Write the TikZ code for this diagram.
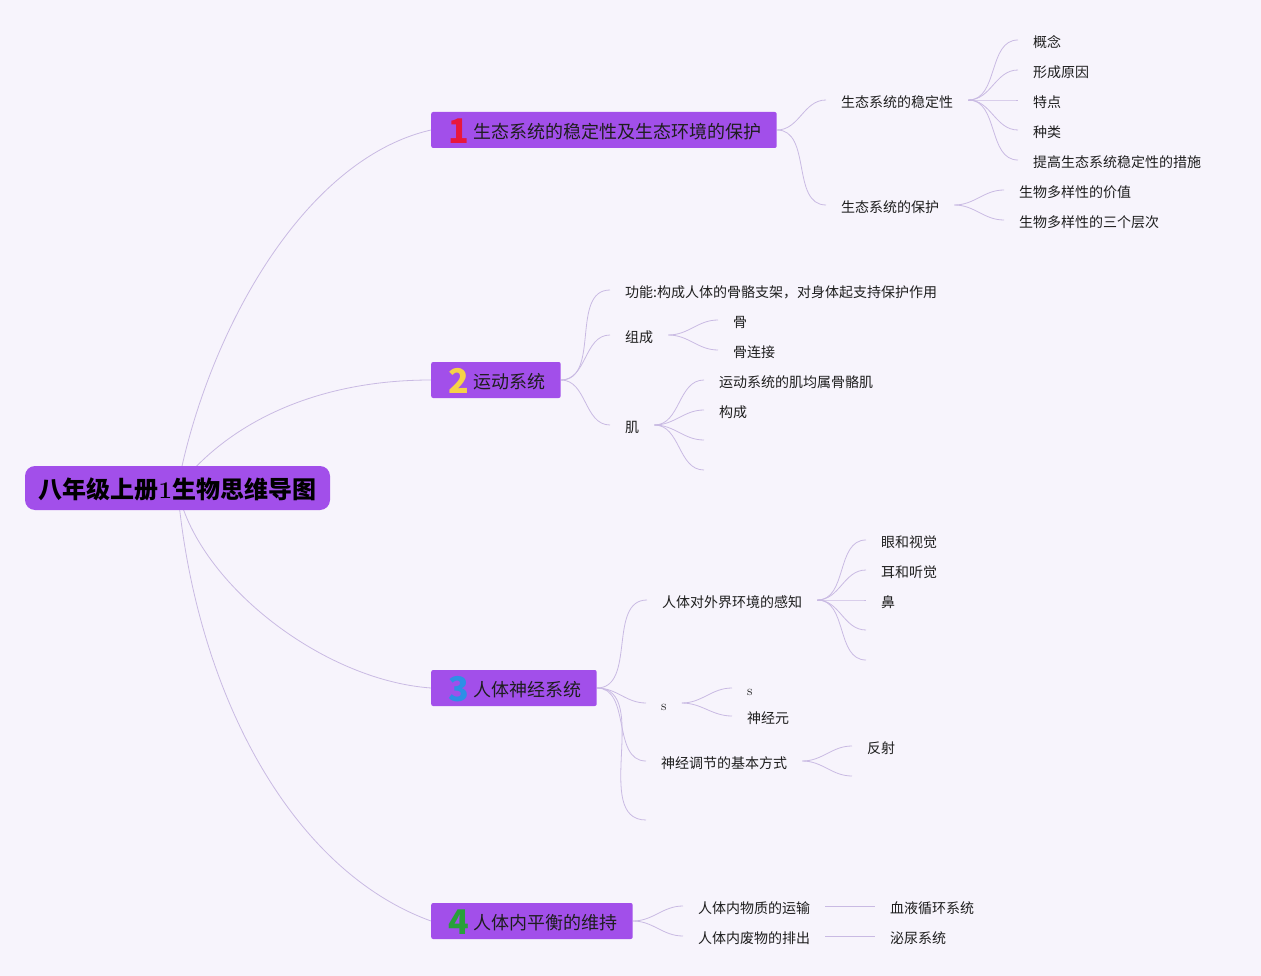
\documentclass[tikz,border=0pt]{standalone}
\usepackage{fontspec}
\newfontfamily\cjk{Noto Sans CJK SC}
\usetikzlibrary{backgrounds}
\definecolor{bg}{HTML}{F7F4FC}
\definecolor{mp}{HTML}{A24FEA}
\definecolor{ln}{HTML}{C9BAE3}
\definecolor{tx}{HTML}{1E1E1E}
\definecolor{b1}{HTML}{E8173B}
\definecolor{b2}{HTML}{F6D247}
\definecolor{b3}{HTML}{2D8FE6}
\definecolor{b4}{HTML}{28A03A}
\newcommand\mybadge[2]{\hspace*{17.5pt}\makebox[19.5pt][l]{\raisebox{-5pt}[0pt][0pt]{\fontsize{34}{34}\selectfont\bfseries\color{#1}#2}}\hspace*{5.5pt}}
\tikzset{
  leaf/.style={anchor=west, inner xsep=15pt, inner ysep=2pt, font=\cjk\fontsize{14}{17}\selectfont, text=tx, text height=15pt, text depth=0pt},
  mainbox/.style={anchor=west, fill=mp, rounded corners=2pt, minimum height=36pt, inner xsep=0pt, inner ysep=0pt, font=\cjk\fontsize{18}{21}\selectfont, text=tx, text height=16.8pt, text depth=0pt},
  rootbox/.style={fill=mp, rounded corners=10pt, minimum width=305pt, minimum height=44pt, inner sep=0pt, font=\cjk\bfseries\fontsize{24}{28}\selectfont, text=black, text height=21.6pt, text depth=0pt},
  conn/.style={draw=ln, line width=0.8pt},
  sconn/.style={conn, out=0, in=180}
}
\begin{document}
\begin{tikzpicture}[x=1pt,y=-1pt]
\useasboundingbox (0,0) rectangle (1261,976);
% root and main branches
\node[rootbox] (root) at (177.5,488) {八年级上册{\rmfamily\bfseries 1}生物思维导图};
\node[mainbox] (m1) at (431,130) {\mybadge{b1}{1}生态系统的稳定性及生态环境的保护\hspace*{15pt}};
\node[mainbox] (m2) at (431,380) {\mybadge{b2}{2}运动系统\hspace*{15pt}};
\node[mainbox] (m3) at (431,688) {\mybadge{b3}{3}人体神经系统\hspace*{15pt}};
\node[mainbox] (m4) at (431,921) {\mybadge{b4}{4}人体内平衡的维持\hspace*{15pt}};
% branch 1
\node[leaf] (a1) at (826,100) {生态系统的稳定性};
\node[leaf] (a2) at (826,205) {生态系统的保护};
\node[leaf] (a11) at (1018,40) {概念};
\node[leaf] (a12) at (1018,70) {形成原因};
\node[leaf] (a13) at (1018,100) {特点};
\node[leaf] (a14) at (1018,130) {种类};
\node[leaf] (a15) at (1018,160) {提高生态系统稳定性的措施};
\node[leaf] (a21) at (1004,190) {生物多样性的价值};
\node[leaf] (a22) at (1004,220) {生物多样性的三个层次};
% branch 2
\node[leaf] (b1) at (610,290) {功能:构成人体的骨骼支架，对身体起支持保护作用};
\node[leaf] (b2) at (610,335) {组成};
\node[leaf] (b3) at (610,425) {肌};
\node[leaf] (b21) at (718,320) {骨};
\node[leaf] (b22) at (718,350) {骨连接};
\node[leaf] (b31) at (704,380) {运动系统的肌均属骨骼肌};
\node[leaf] (b32) at (704,410) {构成};
\coordinate (b33) at (704,440);
\coordinate (b34) at (704,470);
% branch 3
\node[leaf] (c1) at (647,600) {人体对外界环境的感知};
\node[leaf] (c2) at (646,703) {\rmfamily s};
\node[leaf] (c3) at (646,761) {神经调节的基本方式};
\coordinate (c4) at (646,820);
\node[leaf] (c11) at (866,540) {眼和视觉};
\node[leaf] (c12) at (866,570) {耳和听觉};
\node[leaf] (c13) at (866,600) {鼻};
\coordinate (c14) at (866,630);
\coordinate (c15) at (866,660);
\node[leaf] (c21) at (732,688) {\rmfamily s};
\node[leaf] (c22) at (732,716) {神经元};
\node[leaf] (c31) at (852,746) {反射};
\coordinate (c32) at (852,776);
% branch 4
\node[leaf] (d1) at (683,906) {人体内物质的运输};
\node[leaf] (d2) at (683,936) {人体内废物的排出};
\node[leaf] (d11) at (875,906) {血液循环系统};
\node[leaf] (d21) at (875,936) {泌尿系统};
\begin{pgfonlayer}{background}
\fill[bg] (0,0) rectangle (1261,976);
\draw[conn] (root.center) .. controls (205,340) and (300,160) .. (m1.west);
\draw[conn] (root.center) .. controls (230,420) and (320,380) .. (m2.west);
\draw[conn] (root.center) .. controls (195,580) and (320,680) .. (m3.west);
\draw[conn] (root.center) .. controls (195,690) and (290,870) .. (m4.west);
\foreach \t in {a1,a2} \draw[sconn] (m1.east) to (\t.west);
\foreach \t in {a11,a12,a13,a14,a15} \draw[sconn] (a1.east) to (\t.west);
\foreach \t in {a21,a22} \draw[sconn] (a2.east) to (\t.west);
\foreach \t in {b1,b2,b3} \draw[sconn] (m2.east) to (\t.west);
\foreach \t in {b21,b22} \draw[sconn] (b2.east) to (\t.west);
\foreach \t in {b31,b32} \draw[sconn] (b3.east) to (\t.west);
\foreach \t in {b33,b34} \draw[sconn] (b3.east) to (\t);
\foreach \t in {c1,c2,c3} \draw[sconn] (m3.east) to (\t.west);
\draw[sconn] (m3.east) to (c4);
\foreach \t in {c11,c12,c13} \draw[sconn] (c1.east) to (\t.west);
\foreach \t in {c14,c15} \draw[sconn] (c1.east) to (\t);
\foreach \t in {c21,c22} \draw[sconn] (c2.east) to (\t.west);
\draw[sconn] (c3.east) to (c31.west);
\draw[sconn] (c3.east) to (c32);
\foreach \t in {d1,d2} \draw[sconn] (m4.east) to (\t.west);
\draw[conn] (d1.east) -- (d11.west);
\draw[conn] (d2.east) -- (d21.west);
\end{pgfonlayer}
\end{tikzpicture}
\end{document}
